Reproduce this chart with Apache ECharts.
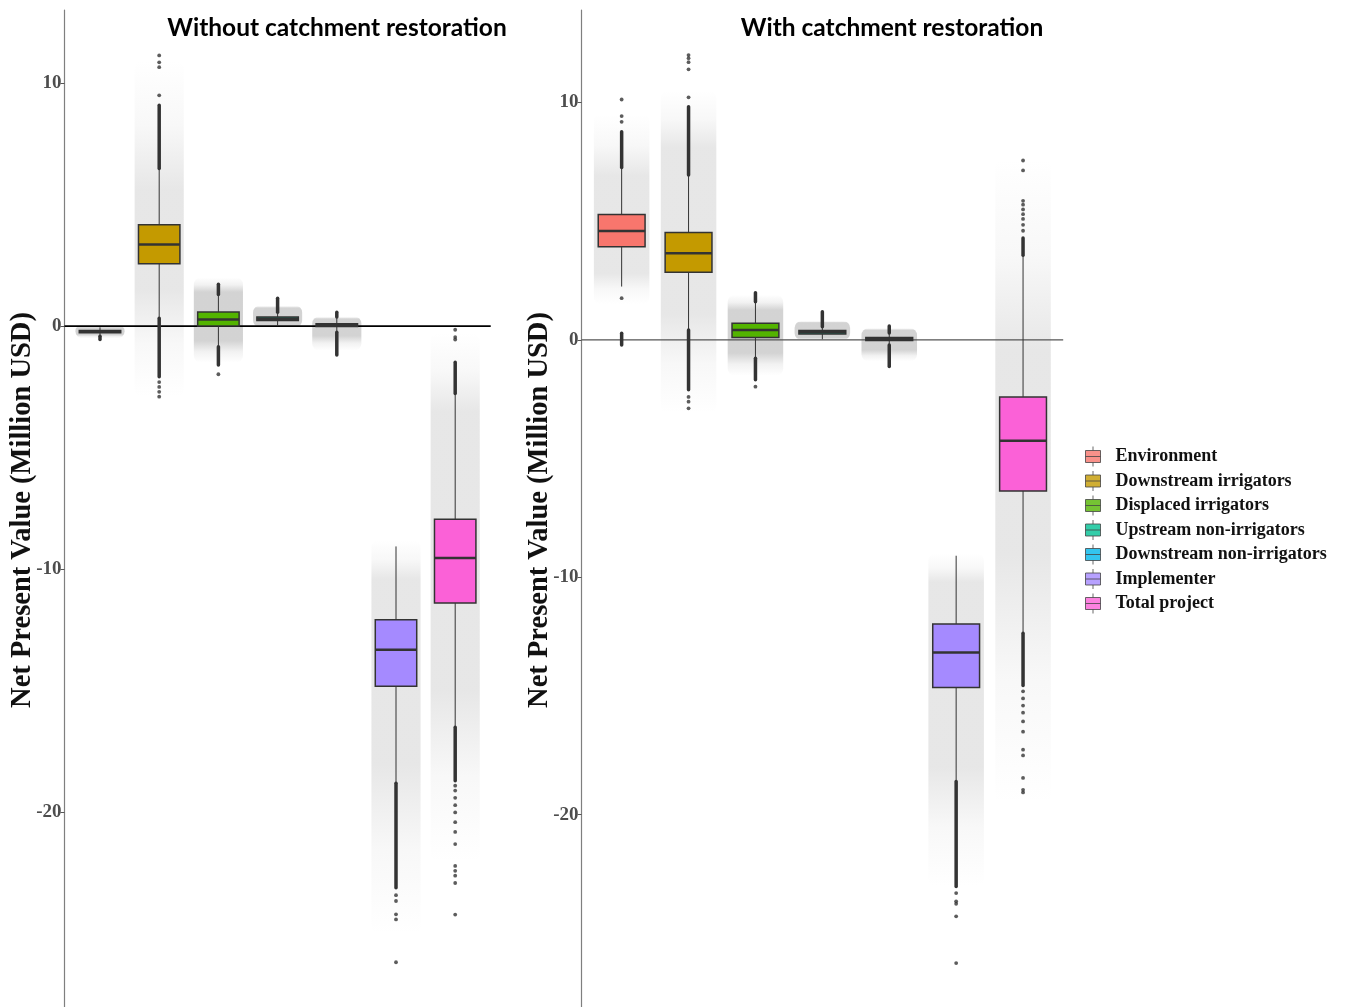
<!DOCTYPE html>
<html><head><meta charset="utf-8">
<script src="https://cdn.jsdelivr.net/npm/echarts@6/dist/echarts.min.js"></script>
<style>html,body{margin:0;padding:0;background:#fff}#c{width:1346px;height:1007px}</style>
</head><body><div id="c"></div><script>
// ---------------- DATA ----------------
const categories = ['Environment','Downstream irrigators','Displaced irrigators','Upstream non-irrigators','Downstream non-irrigators','Implementer','Total project'];
const panelTitles = ['Without catchment restoration','With catchment restoration'];
const yAxisTitle = 'Net Present Value (Million USD)';
const yTicks = [-20, -10, 0, 10];
const zeroLine = [0];

// box stats per category: [lower whisker, Q1, median, Q3, upper whisker]
const boxesWithout = [
  [-0.40, -0.27, -0.22, -0.18, -0.05],
  [0.32, 2.57, 3.36, 4.17, 6.48],
  [-0.85, 0.00, 0.27, 0.58, 1.28],
  [0.00, 0.23, 0.30, 0.37, 0.55],
  [-0.23, -0.02, 0.04, 0.10, 0.37],
  [-18.77, -14.81, -13.31, -12.07, -9.06],
  [-16.48, -11.39, -9.54, -7.94, -2.77]
];
const boxesWith = [
  [2.25, 3.93, 4.59, 5.29, 7.27],
  [0.42, 2.85, 3.65, 4.53, 6.95],
  [-0.77, 0.10, 0.42, 0.70, 1.61],
  [0.03, 0.25, 0.32, 0.40, 0.56],
  [-0.21, -0.02, 0.04, 0.10, 0.29],
  [-18.60, -14.64, -13.17, -11.97, -9.09],
  [-12.36, -6.36, -4.25, -2.40, 3.57]
];

// dense runs of outliers: [category index, from, to]
const outlierRunsWithout = [
  [0, -0.55, -0.42],
  [1, 6.48, 9.08], [1, -2.08, 0.32],
  [2, 1.30, 1.72], [2, -1.60, -0.85],
  [3, 0.57, 1.15],
  [4, 0.38, 0.57], [4, -1.19, -0.25],
  [5, -23.10, -18.80],
  [6, -2.77, -1.49], [6, -18.70, -16.50]
];
const outlierRunsWith = [
  [0, 7.27, 8.77], [0, -0.21, 0.28],
  [1, 6.95, 9.82], [1, -2.10, 0.42],
  [2, 1.61, 1.99], [2, -1.68, -0.77],
  [3, 0.56, 1.19],
  [4, 0.29, 0.59], [4, -1.12, -0.21],
  [5, -23.02, -18.60],
  [6, 3.57, 4.30], [6, -14.56, -12.36]
];
// isolated outliers: [category index, value]
const outliersWithout = [
  [1, 9.49], [1, 10.65], [1, 10.85], [1, 11.13], [1, -2.30], [1, -2.50], [1, -2.70], [1, -2.90],
  [2, -1.98],
  [5, -23.40], [5, -23.64], [5, -24.19], [5, -24.40], [5, -26.16],
  [6, -0.15], [6, -0.45], [6, -0.55],
  [6, -18.90], [6, -19.10], [6, -19.40], [6, -19.70], [6, -20.00], [6, -20.40], [6, -20.80], [6, -21.30],
  [6, -22.20], [6, -22.40], [6, -22.60], [6, -22.90], [6, -24.20]
];
const outliersWith = [
  [0, 9.19], [0, 9.43], [0, 10.13], [0, 1.76],
  [1, 10.22], [1, 11.40], [1, 11.70], [1, 11.87], [1, 12.00], [1, -2.40], [1, -2.60], [1, -2.88],
  [2, -1.97],
  [5, -23.30], [5, -23.65], [5, -23.75], [5, -24.28], [5, -26.25],
  [6, 4.60], [6, 4.85], [6, 5.10], [6, 5.30], [6, 5.50], [6, 5.70], [6, 5.86], [6, 7.14], [6, 7.56],
  [6, -14.80], [6, -15.10], [6, -15.40], [6, -15.70], [6, -16.07], [6, -16.50], [6, -17.26], [6, -17.50],
  [6, -18.45], [6, -18.95], [6, -19.06]
];
// jittered raw-draw clouds: [sparse low, dense low, dense high, sparse high]
const cloudsWithout = [
  [-0.50, -0.35, -0.08, 0.08],
  [-2.90, 1.50, 5.60, 10.90],
  [-1.50, -0.60, 1.40, 2.00],
  [-0.05, 0.05, 0.75, 0.85],
  [-1.00, -0.40, 0.30, 0.40],
  [-25.00, -18.00, -10.40, -8.80],
  [-22.00, -15.00, -3.50, -0.30]
];
const cloudsWith = [
  [1.50, 2.80, 6.90, 9.50],
  [-3.10, 1.10, 8.10, 10.50],
  [-1.50, -0.55, 1.26, 1.90],
  [0.00, 0.08, 0.73, 0.80],
  [-0.90, -0.42, 0.42, 0.50],
  [-23.00, -18.00, -10.20, -9.00],
  [-19.50, -9.00, -0.50, 7.60]
];

// ---------------- STYLE ----------------
const colors = ['#F8766D','#C49A00','#53B400','#00C094','#00B6EB','#A58AFF','#FB61D7'];
const serif = '"Liberation Serif", "Times New Roman", serif';
const dark = '#333333';

function cloudItem(params, api) {
  const c = api.value(0);
  const lo = api.coord([c, api.value(1)]);
  const cLo = api.coord([c, api.value(2)]);
  const cHi = api.coord([c, api.value(3)]);
  const hi = api.coord([c, api.value(4)]);
  const bw = api.size([1, 0])[0];
  const w = bw * 0.83;
  const h = Math.max(lo[1] - hi[1], 1);
  const s1 = Math.min(Math.max((cHi[1] - hi[1]) / h, 0.02), 0.98);
  const s2 = Math.min(Math.max((cLo[1] - hi[1]) / h, s1), 0.98);
  const span = Math.abs(api.value(3) - api.value(2));
  const a = span < 2.5 ? 0.55 : 0.3;
  const g = 'rgba(175,175,175,';
  return {
    type: 'rect',
    shape: { x: lo[0] - w / 2, y: hi[1], width: w, height: h, r: 7 },
    style: { fill: new echarts.graphic.LinearGradient(0, 0, 0, 1, [
      { offset: 0, color: g + '0)' },
      { offset: s1 * 0.5, color: g + (a * 0.3) + ')' },
      { offset: s1, color: g + a + ')' },
      { offset: s2, color: g + a + ')' },
      { offset: (s2 + 1) / 2, color: g + (a * 0.3) + ')' },
      { offset: 1, color: g + '0)' }
    ]) }
  };
}
function boxItem(params, api) {
  const c = api.value(0);
  const bw = api.size([1, 0])[0];
  const w = bw * 0.70;
  const pLo = api.coord([c, api.value(1)]);
  const pQ1 = api.coord([c, api.value(2)]);
  const pMed = api.coord([c, api.value(3)]);
  const pQ3 = api.coord([c, api.value(4)]);
  const pHi = api.coord([c, api.value(5)]);
  const x = pMed[0];
  return {
    type: 'group',
    children: [
      { type: 'line', shape: { x1: x, y1: pHi[1], x2: x, y2: pQ3[1] }, style: { stroke: dark, lineWidth: 1 } },
      { type: 'line', shape: { x1: x, y1: pQ1[1], x2: x, y2: pLo[1] }, style: { stroke: dark, lineWidth: 1 } },
      { type: 'rect', shape: { x: x - w / 2, y: pQ3[1], width: w, height: Math.max(pQ1[1] - pQ3[1], 0.5) },
        style: { fill: colors[c], stroke: dark, lineWidth: 1.5 } },
      { type: 'line', shape: { x1: x - w / 2, y1: pMed[1], x2: x + w / 2, y2: pMed[1] }, style: { stroke: dark, lineWidth: 2.5 } }
    ]
  };
}
function runItem(params, api) {
  const c = api.value(0);
  const a = api.coord([c, api.value(1)]);
  const b = api.coord([c, api.value(2)]);
  return { type: 'line', shape: { x1: a[0], y1: a[1], x2: b[0], y2: b[1] },
    style: { stroke: dark, lineWidth: 3.5, lineCap: 'round' } };
}
function zeroItemFactory(stroke, width) {
  return function (params, api) {
    const bw = api.size([1, 0])[0];
    const a = api.coord([0, api.value(1)]);
    const b = api.coord([categories.length - 1, api.value(1)]);
    return { type: 'line', shape: { x1: a[0] - 0.6 * bw, y1: a[1], x2: b[0] + 0.6 * bw, y2: b[1] },
      style: { stroke: stroke, lineWidth: width } };
  };
}

const panels = [
  { boxes: boxesWithout, runs: outlierRunsWithout, pts: outliersWithout, clouds: cloudsWithout,
    grid: { left: 70.4, top: 10, width: 414.4, height: 997 }, min: -28, max: 13, offset: 5.9,
    zero: ['#000000', 1.6], title: 332, ytitle: 23 },
  { boxes: boxesWith, runs: outlierRunsWith, pts: outliersWith, clouds: cloudsWith,
    grid: { left: 588.2, top: 10, width: 468.3, height: 997 }, min: -28.1, max: 13.9, offset: 6.6,
    zero: ['#555555', 1.2], title: 887, ytitle: 540 }
];

const option = {
  animation: false,
  backgroundColor: '#ffffff',
  title: panels.map((p, i) => ({
    text: panelTitles[i], left: p.title, top: 11, textAlign: 'center',
    textStyle: { fontFamily: 'Lato', fontWeight: 'bold', fontSize: 24.5, color: '#000' }
  })),
  grid: panels.map(p => p.grid),
  xAxis: panels.map((p, i) => ({
    type: 'category', gridIndex: i, data: categories, show: false, boundaryGap: true
  })),
  yAxis: panels.map((p, i) => ({
    type: 'value', gridIndex: i, min: p.min, max: p.max, offset: p.offset,
    axisLine: { show: true, lineStyle: { color: '#7f7f7f', width: 1.2 } },
    axisTick: { show: true, length: 4, customValues: yTicks, lineStyle: { color: '#555', width: 1 } },
    axisLabel: { customValues: yTicks, margin: 3, color: '#4d4d4d', fontFamily: serif, fontWeight: 'bold', fontSize: 19 },
    splitLine: { show: false }
  })),
  legend: {
    data: categories, orient: 'vertical', left: 1085, top: 446, padding: 0,
    itemWidth: 15, itemHeight: 20, itemGap: 3.5, selectedMode: false,
    icon: 'path://M7.5,0L7.5,4M0,4L15,4L15,16L0,16ZM0,10L15,10M7.5,16L7.5,20',
    itemStyle: { borderColor: '#444', borderWidth: 1 },
    textStyle: { fontFamily: serif, fontWeight: 'bold', fontSize: 18, color: '#111', padding: [0, 0, 0, 10], lineHeight: 20 }
  },
  graphic: panels.map(p => ({
    type: 'text', x: p.ytitle, y: 510, rotation: Math.PI / 2,
    style: { text: yAxisTitle, font: 'bold 28.5px ' + serif, fill: '#111', textAlign: 'center', textVerticalAlign: 'middle' }
  })),
  series: []
};

panels.forEach((p, i) => {
  option.series.push({
    type: 'custom', xAxisIndex: i, yAxisIndex: i, z: 1, silent: true,
    data: p.clouds.map((c, k) => [k].concat(c)), encode: { x: 0, y: [1, 2, 3, 4] },
    renderItem: cloudItem
  });
  option.series.push({
    type: 'custom', xAxisIndex: i, yAxisIndex: i, z: 2, silent: true,
    data: zeroLine.map(v => [0, v]), encode: { x: 0, y: 1 },
    renderItem: zeroItemFactory(p.zero[0], p.zero[1])
  });
  option.series.push({
    type: 'custom', xAxisIndex: i, yAxisIndex: i, z: 3,
    data: p.boxes.map((b, k) => [k].concat(b)), encode: { x: 0, y: [1, 2, 3, 4, 5] },
    renderItem: boxItem
  });
  option.series.push({
    type: 'custom', xAxisIndex: i, yAxisIndex: i, z: 4, silent: true,
    data: p.runs, encode: { x: 0, y: [1, 2] },
    renderItem: runItem
  });
  option.series.push({
    type: 'scatter', xAxisIndex: i, yAxisIndex: i, z: 4,
    data: p.pts, symbolSize: 3.8, itemStyle: { color: dark }
  });
});
categories.forEach((name, k) => {
  option.series.push({ type: 'scatter', name: name, data: [], xAxisIndex: 0, yAxisIndex: 0, itemStyle: { color: colors[k] } });
});

const chart = echarts.init(document.getElementById('c'), null, { renderer: 'canvas' });
chart.setOption(option);
</script></body></html>
